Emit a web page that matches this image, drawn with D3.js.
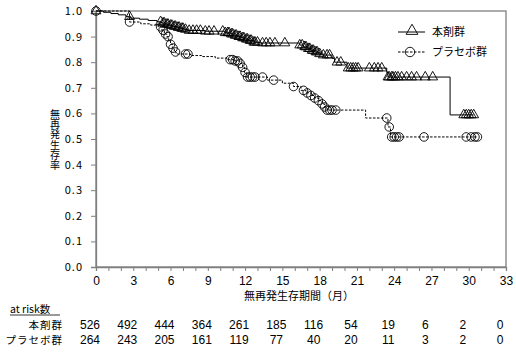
<!DOCTYPE html>
<meta charset="utf-8">
<title>KM curve</title>
<script src="https://d3js.org/d3.v7.min.js"></script>
<style>
    body { margin: 0; background: #fff; }
    text { font-family: "Noto Sans CJK JP", sans-serif; fill: #000; }
    .num { font-family: "Liberation Sans Narrow", "Liberation Sans", sans-serif; font-size: 12px; }
</style>
<body>
<div id="chart"></div>
<script>
// step points of the KM curves: [month, survival after the step]
var drugSteps = [[0,1.0],[0.6,0.995],[1.2,0.99],[1.8,0.985],[2.4,0.978],[2.8,0.972],[3.5,0.968],[4.2,0.963],
    [4.9,0.958],[5.3,0.953],[5.6,0.948],[5.9,0.944],[6.2,0.94],[6.5,0.936],[6.8,0.932],[7.1,0.928],[7.4,0.924],
    [8.8,0.921],[10.4,0.915],[10.8,0.91],[11.1,0.905],[11.4,0.9],[11.7,0.895],[12.0,0.89],[12.3,0.885],
    [12.7,0.878],[13.2,0.875],[16.4,0.867],[16.7,0.86],[17.0,0.853],[17.3,0.846],[17.6,0.84],[17.9,0.833],
    [18.2,0.828],[19.0,0.815],[19.2,0.8],[20.2,0.777],[23.4,0.76],[23.5,0.742],[28.5,0.594]];
var drugCensor = [0,2.7,5.2,5.4,5.5,5.7,5.8,6.0,6.1,6.3,6.4,6.6,6.7,6.9,7.0,7.2,7.5,7.8,8.1,8.4,8.8,9.1,9.5,
    10.2,10.4,10.6,10.7,10.9,11.0,11.2,11.3,11.5,11.6,11.8,11.9,12.1,12.2,12.4,12.5,12.7,12.8,13.0,13.4,13.7,
    14.0,14.4,15.2,16.4,16.6,16.8,16.9,17.1,17.2,17.4,17.5,17.7,17.8,18.0,18.3,18.6,18.8,19.4,19.7,20.3,20.5,
    20.7,20.9,21.1,22.0,22.4,22.7,23.0,23.5,23.6,23.8,23.9,24.1,24.3,24.6,25.0,25.4,25.8,26.5,27.1,
    29.6,29.8,30.0,30.2,30.4];
var placeboSteps = [[0,1.0],[2.7,0.957],[3.6,0.95],[4.4,0.945],[5.0,0.938],[5.3,0.925],[5.5,0.91],[5.7,0.9],
    [5.85,0.885],[6.0,0.87],[6.15,0.855],[6.3,0.84],[6.45,0.832],[7.6,0.826],[8.5,0.822],[9.6,0.816],
    [10.6,0.81],[11.2,0.805],[11.6,0.795],[11.8,0.78],[11.95,0.76],[12.1,0.742],[13.8,0.73],[15.0,0.718],
    [15.9,0.705],[16.5,0.69],[16.9,0.68],[17.3,0.67],[17.6,0.66],[17.9,0.65],[18.2,0.637],[18.4,0.625],
    [18.6,0.613],[21.7,0.582],[23.5,0.547],[23.7,0.508]];
var placeboCensor = [0,2.7,5.2,5.4,5.6,5.8,6.0,6.2,6.4,7.2,7.4,10.8,11.0,11.2,11.4,11.6,11.8,12.0,12.2,
    12.4,12.6,12.8,13.4,14.3,15.9,16.7,17.0,17.3,17.6,17.9,18.2,18.4,18.6,18.8,19.0,19.3,23.4,23.6,23.8,
    24.0,24.2,24.4,26.4,29.8,30.2,30.5,30.7];

var groups = ["本剤群", "プラセボ群"];
var riskTimes = [0,3,6,9,12,15,18,21,24,27,30,33];
var drugRisk = [526,492,444,364,261,185,116,54,19,6,2,0];
var placeboRisk = [264,243,205,161,119,77,40,20,11,3,2,0];

var yTicks = [0,0.1,0.2,0.3,0.4,0.5,0.6,0.7,0.8,0.9,1.0];
var yLabel = "無再発生存率";
var xLabel = "無再発生存期間（月）";

var W = 516, H = 353;
var svg = d3.select("#chart").append("svg").attr("width", W).attr("height", H);

var x = d3.scaleLinear().domain([0, 33]).range([96, 506]);
var y = d3.scaleLinear().domain([0, 1]).range([267, 11]);

// frame
svg.append("rect")
    .attr("x", x(0)).attr("y", y(1))
    .attr("width", x(33) - x(0)).attr("height", y(0) - y(1))
    .attr("fill", "none").attr("stroke", "#7f7f7f").attr("stroke-width", 1.3);

// y axis
var yAxis = svg.append("g").attr("transform", "translate(" + x(0) + ",0)")
    .call(d3.axisLeft(y).tickValues(yTicks).tickFormat(d3.format(".1f")).tickSize(5).tickPadding(8));
yAxis.select(".domain").attr("stroke", "#7f7f7f").attr("stroke-width", 1.3);
yAxis.selectAll(".tick line").attr("stroke", "#7f7f7f");
yAxis.selectAll(".tick text").attr("font-family", "Noto Sans CJK JP").attr("font-size", 11)
    .attr("letter-spacing", 1).attr("fill", "#000");

// x axis, tick each month, label every 3
var xAxis = svg.append("g").attr("transform", "translate(0," + y(0) + ")")
    .call(d3.axisBottom(x).tickValues(d3.range(0, 34)).tickSize(4).tickPadding(5)
        .tickFormat(function(d) { return d % 3 === 0 ? d : ""; }));
xAxis.select(".domain").attr("stroke", "#7f7f7f").attr("stroke-width", 1.3);
xAxis.selectAll(".tick line").attr("stroke", "#7f7f7f");
xAxis.selectAll(".tick text").attr("class", "num").attr("font-size", 12).attr("fill", "#000");

// axis titles
svg.append("text").attr("x", 299).attr("y", 300).attr("text-anchor", "middle")
    .attr("font-size", 11).text(xLabel);
svg.append("text")
    .attr("x", 55).attr("y", 140)
    .attr("text-anchor", "middle")
    .style("writing-mode", "vertical-rl").style("text-orientation", "upright")
    .attr("font-size", 10).attr("letter-spacing", 0.3).text(yLabel);

// survival lookup for censor marks
function survAt(steps, t) {
    var s = steps[0][1];
    steps.forEach(function(p) { if (p[0] <= t) s = p[1]; });
    return s;
}

var line = d3.line().x(function(d) { return x(d[0]); }).y(function(d) { return y(d[1]); })
    .curve(d3.curveStepAfter);

function drawCurve(steps, censor, dashed, mark) {
    var end = d3.max(censor);
    var pts = steps.concat([[end, survAt(steps, end)]]);
    svg.append("path").datum(pts).attr("d", line)
        .attr("fill", "none").attr("stroke", "#000").attr("stroke-width", 1)
        .attr("stroke-dasharray", dashed ? "2.5,1.5" : null);
    var sym = d3.symbol().type(mark).size(mark === d3.symbolCircle ? 58 : 42);
    svg.selectAll(null).data(censor).enter().append("path")
        .attr("d", sym)
        .attr("transform", function(t) { return "translate(" + x(t) + "," + y(survAt(steps, t)) + ")"; })
        .attr("fill", "none").attr("stroke", "#000").attr("stroke-width", 0.9);
}

drawCurve(drugSteps, drugCensor, false, d3.symbolTriangle);
drawCurve(placeboSteps, placeboCensor, true, d3.symbolCircle);

// legend
var legend = svg.append("g");
[0, 1].forEach(function(i) {
    var ly = 32 + i * 20;
    legend.append("line").attr("x1", 398).attr("x2", 425).attr("y1", ly).attr("y2", ly)
        .attr("stroke", "#000").attr("stroke-dasharray", i ? "2.5,1.5" : null);
    legend.append("path")
        .attr("d", d3.symbol().type(i ? d3.symbolCircle : d3.symbolTriangle).size(i ? 70 : 60))
        .attr("transform", "translate(" + (i ? 410 : 412) + "," + (ly + (i ? 0 : -1)) + ")")
        .attr("fill", "none").attr("stroke", "#000").attr("stroke-width", 0.9);
    legend.append("text").attr("x", 432).attr("y", ly + 4).attr("font-size", 11).text(groups[i]);
});

// number at risk table
svg.append("text").attr("x", 10).attr("y", 312.5).attr("font-size", 10.5).text("at risk数");
svg.append("line").attr("x1", 10).attr("x2", 60).attr("y1", 315).attr("y2", 315)
    .attr("stroke", "#000").attr("stroke-width", 0.8);
[drugRisk, placeboRisk].forEach(function(row, r) {
    var ry = 328.5 + r * 15.5;
    svg.append("text").attr("x", 63).attr("y", ry).attr("text-anchor", "end")
        .attr("font-size", 10.5).attr("letter-spacing", 1).text(groups[r]);
    svg.selectAll(null).data(row).enter().append("text")
        .attr("class", "num").attr("text-anchor", "middle")
        .attr("x", function(d, i) { return x(riskTimes[i]) - 6; })
        .attr("y", ry).text(function(d) { return d; });
});
</script>
</body>
